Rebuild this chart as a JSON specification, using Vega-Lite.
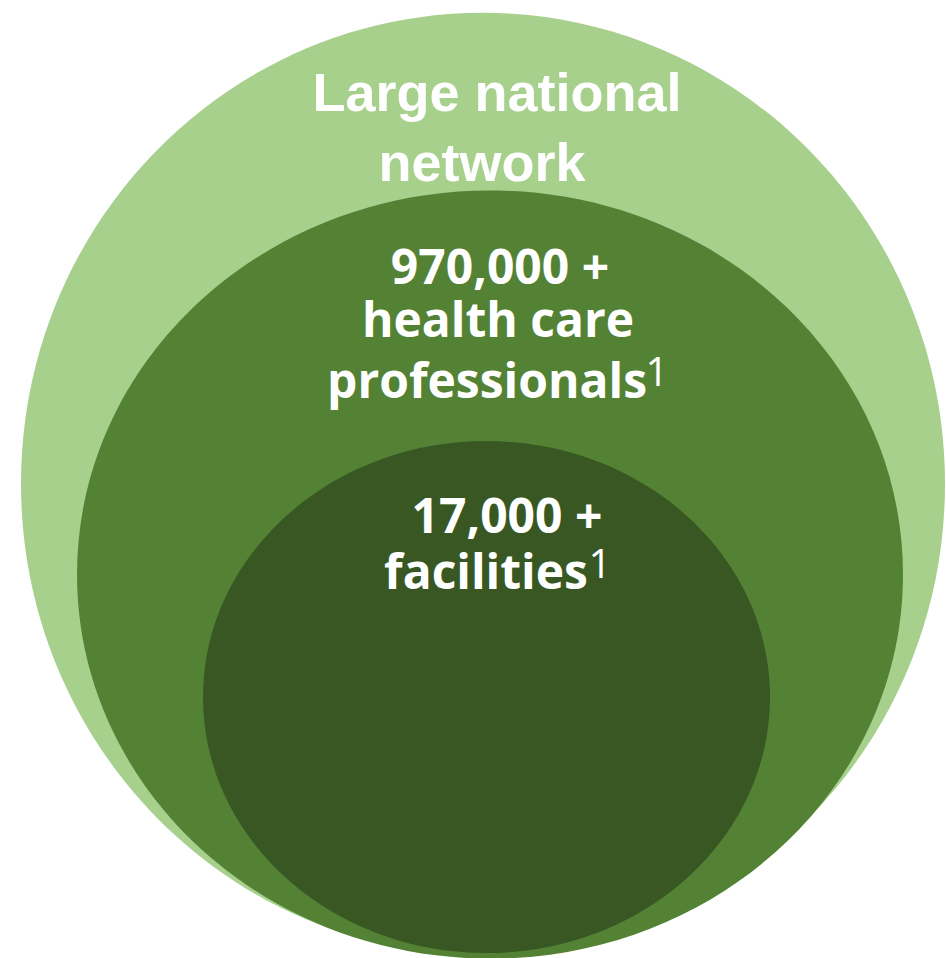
{
  "$schema": "https://vega.github.io/schema/vega-lite/v6.json",
  "width": 946,
  "height": 958,
  "autosize": {"type": "fit", "contains": "padding"},
  "padding": 0,
  "background": "white",
  "config": {"view": {"stroke": null}},
  "datasets": {
    "rings": [
      {"ring": "Large national network", "cx": 483, "cy": 486, "w": 924, "order": 1},
      {"ring": "970,000+ health care professionals", "cx": 490, "cy": 577, "w": 826, "order": 2},
      {"ring": "17,000+ facilities", "cx": 486.5, "cy": 700, "w": 567, "order": 3}
    ],
    "labels": [
      {"text": "Large national", "x": 497, "y": 111, "kind": "title"},
      {"text": "network", "x": 482, "y": 182, "kind": "title"},
      {"text": "970,000 +", "x": 500, "y": 285, "kind": "body"},
      {"text": "health care", "x": 498, "y": 338, "kind": "body"},
      {"text": "professionals", "x": 487, "y": 400, "kind": "body"},
      {"text": "1", "x": 657, "y": 388, "kind": "sup"},
      {"text": "17,000 +", "x": 507, "y": 535, "kind": "body"},
      {"text": "facilities", "x": 486, "y": 591, "kind": "body"},
      {"text": "1", "x": 600, "y": 580, "kind": "sup"}
    ]
  },
  "layer": [
    {
      "data": {"name": "rings"},
      "mark": {"type": "point", "filled": true, "opacity": 1, "strokeWidth": 0},
      "encoding": {
        "x": {"field": "cx", "type": "quantitative", "scale": {"domain": [0, 946], "nice": false, "zero": false}, "axis": null},
        "y": {"field": "cy", "type": "quantitative", "scale": {"domain": [958, 0], "nice": false, "zero": false}, "axis": null},
        "size": {"field": "w", "type": "quantitative", "scale": {"type": "pow", "exponent": 2, "domain": [0, 1000], "range": [0, 1000000]}, "legend": null},
        "shape": {
          "field": "ring", "type": "nominal", "legend": null,
          "scale": {
            "domain": ["Large national network", "970,000+ health care professionals", "17,000+ facilities"],
            "range": [
              "M-1,0A1,1.02,0,1,1,1,0A1,1.02,0,1,1,-1,0Z",
              "M-1,0A1,0.93,0,1,1,1,0A1,0.93,0,1,1,-1,0Z",
              "M-1,0A1,0.903,0,1,1,1,0A1,0.903,0,1,1,-1,0Z"
            ]
          }
        },
        "color": {
          "field": "ring", "type": "nominal", "legend": null,
          "scale": {
            "domain": ["Large national network", "970,000+ health care professionals", "17,000+ facilities"],
            "range": ["#A8D08D", "#538235", "#385723"]
          }
        },
        "order": {"field": "order", "type": "quantitative"}
      }
    },
    {
      "data": {"name": "labels"},
      "transform": [{"filter": "datum.kind === 'title'"}],
      "mark": {"type": "text", "align": "center", "baseline": "alphabetic", "font": "Liberation Sans", "fontWeight": "bold", "fontSize": 54, "color": "white"},
      "encoding": {
        "x": {"field": "x", "type": "quantitative", "scale": {"domain": [0, 946], "nice": false, "zero": false}, "axis": null},
        "y": {"field": "y", "type": "quantitative", "scale": {"domain": [958, 0], "nice": false, "zero": false}, "axis": null},
        "text": {"field": "text", "type": "nominal"}
      }
    },
    {
      "data": {"name": "labels"},
      "transform": [{"filter": "datum.kind === 'body'"}],
      "mark": {"type": "text", "align": "center", "baseline": "alphabetic", "font": "Open Sans", "fontWeight": "bold", "fontSize": 48, "color": "white"},
      "encoding": {
        "x": {"field": "x", "type": "quantitative", "scale": {"domain": [0, 946], "nice": false, "zero": false}, "axis": null},
        "y": {"field": "y", "type": "quantitative", "scale": {"domain": [958, 0], "nice": false, "zero": false}, "axis": null},
        "text": {"field": "text", "type": "nominal"}
      }
    },
    {
      "data": {"name": "labels"},
      "transform": [{"filter": "datum.kind === 'sup'"}],
      "mark": {"type": "text", "align": "center", "baseline": "alphabetic", "font": "Open Sans", "fontWeight": "normal", "fontSize": 40, "color": "white"},
      "encoding": {
        "x": {"field": "x", "type": "quantitative", "scale": {"domain": [0, 946], "nice": false, "zero": false}, "axis": null},
        "y": {"field": "y", "type": "quantitative", "scale": {"domain": [958, 0], "nice": false, "zero": false}, "axis": null},
        "text": {"field": "text", "type": "nominal"}
      }
    }
  ]
}
